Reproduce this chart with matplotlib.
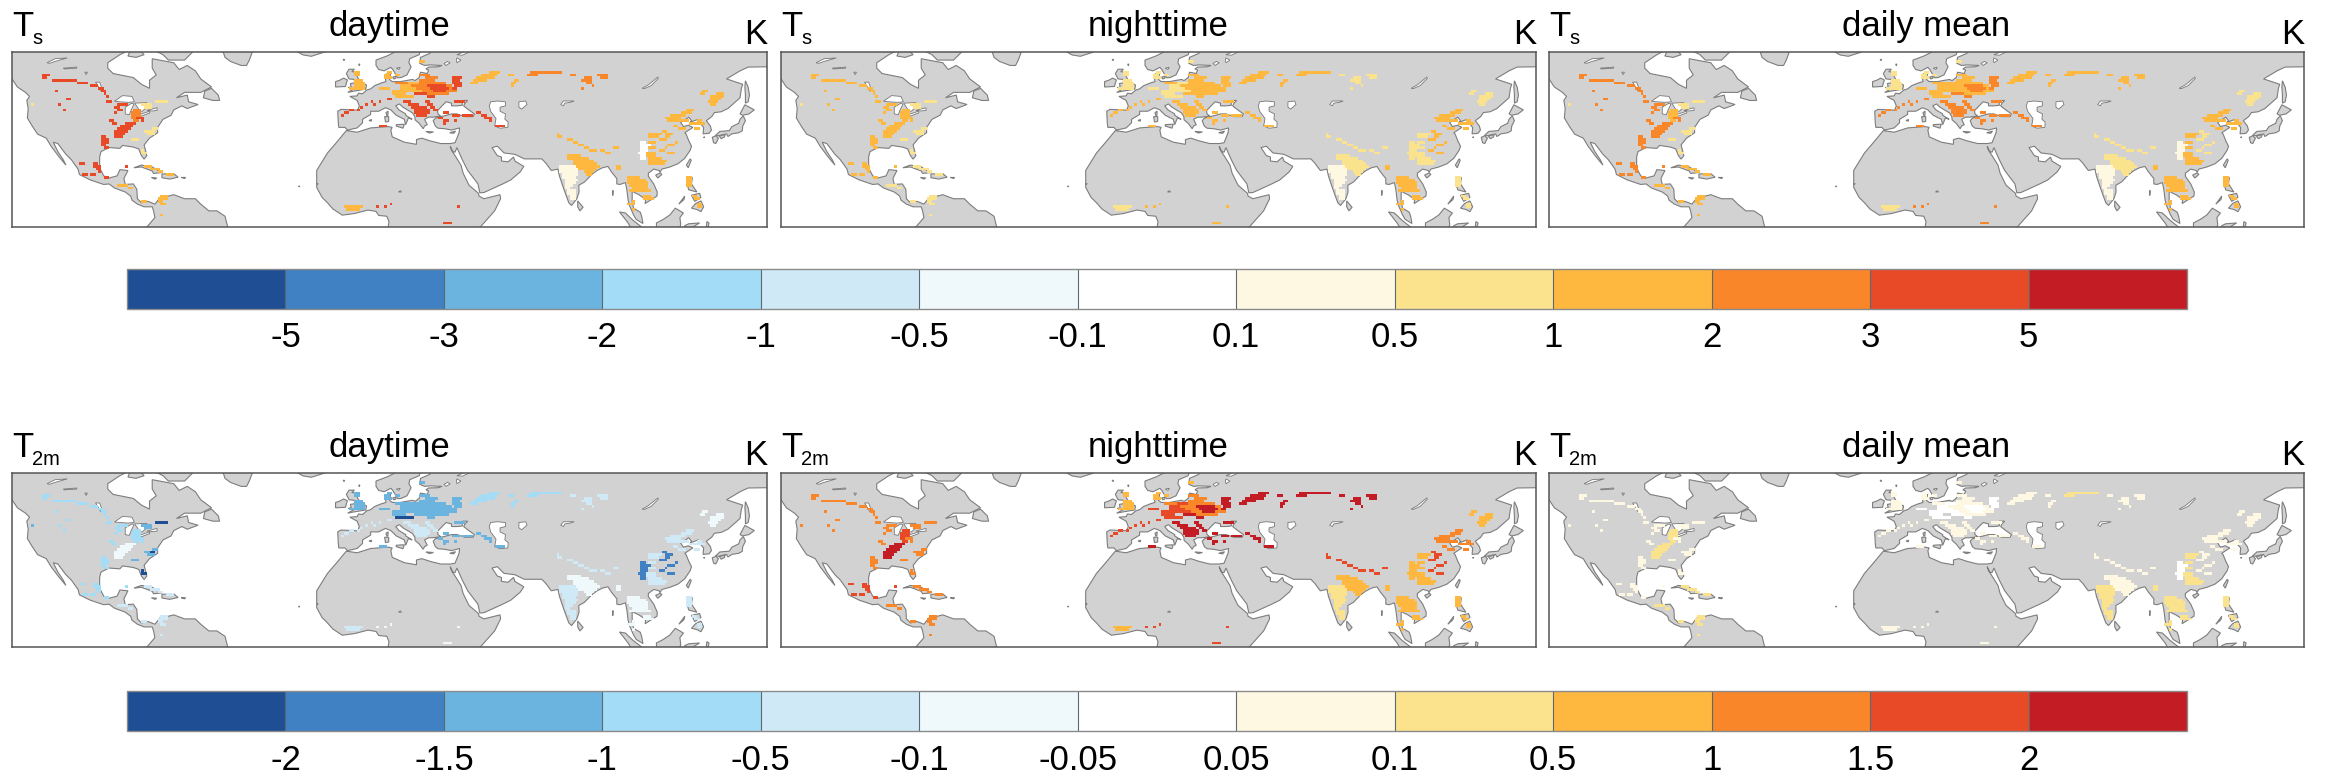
#!/usr/bin/env python3
"""Six map panels of Ts / T2m change over croplands, with two discrete colour bars."""

import numpy as np
import matplotlib
matplotlib.use("Agg")
import matplotlib.pyplot as plt
from matplotlib.cm import ScalarMappable
from matplotlib.colors import BoundaryNorm, ListedColormap
from matplotlib.patches import Polygon

plt.rcParams["font.family"] = ["Liberation Sans", "DejaVu Sans"]

FIG_W, FIG_H = 2328, 776
LAND = "#d2d2d2"
COAST = "#7d7d7d"

colors = ["#1f4e94", "#3f81c2", "#6cb4e0", "#a3dcf7", "#cfeaf6", "#eff8fb", "#ffffff",
          "#fef8e3", "#fbe38e", "#feb840", "#f98628", "#e84a27", "#c41c24"]
ts_levels = [-5, -3, -2, -1, -0.5, -0.1, 0.1, 0.5, 1, 2, 3, 5]
t2_levels = [-2, -1.5, -1, -0.5, -0.1, -0.05, 0.05, 0.1, 0.5, 1, 1.5, 2]
titles = ["daytime", "nighttime", "daily mean"]

# coastlines, lon/lat
afro_eurasia = [
    (32.5, 31), (29, 31), (25, 32), (22, 33), (20, 32.5), (20, 30.7), (15.5, 31.5), (11, 33.5), (10.5, 36),
    (11, 37), (9.5, 37.3), (3, 36.8), (-2, 35.2), (-6, 35.8), (-10, 31), (-13, 27.5), (-17, 21), (-17, 14.7),
    (-15, 11), (-13, 9), (-11, 6.7), (-7.5, 4.4), (-3, 5), (2, 6.3), (5, 5.8), (6, 4.3), (9, 4), (9.8, 2),
    (9.5, 0), (9, -3), (41, -3), (45, 1.5), (49, 6), (51.2, 10.5), (51, 12), (45, 10.5), (43.2, 11.5),
    (43, 12.5), (39.5, 15.5), (37.3, 20), (36.5, 23), (34, 27), (33, 28.5), (32.5, 30), (33.5, 28),
    (34.3, 27.8), (35, 29.5), (37, 25), (39, 21), (42.8, 16), (43.5, 12.7), (45, 12.8), (52, 16), (55, 17.5),
    (58.5, 20.5), (59.8, 22.5), (56.5, 24.5), (56, 26), (54, 24.2), (51.5, 24.5), (51.5, 26), (50, 26.5),
    (48, 29.5), (50, 30), (52.5, 27.5), (56.5, 27), (60, 25.3), (66.5, 25.3), (68, 23.7), (70, 21),
    (72.5, 21.5), (73, 19), (74.5, 14.5), (76.5, 9), (77.5, 8), (79.5, 10.5), (80.3, 13), (80.2, 15.5),
    (82.3, 16.7), (85, 19.5), (87, 21), (89, 22), (91, 22.5), (92.3, 20.5), (94.3, 18), (94.3, 16),
    (95.5, 15.8), (97.5, 16.5), (98, 14), (98.5, 10), (99, 8), (100.5, 4.5), (101.5, 2.8), (104, 1.3),
    (103.5, 4), (103, 5.5), (100.5, 7), (100, 9.5), (100, 13.4), (101, 12.7), (102.5, 12), (105, 10.3),
    (104.8, 8.7), (106.5, 9.8), (109.2, 11.5), (109.3, 13), (108, 16), (106, 18.8), (106, 20), (108, 21.5),
    (110, 21), (110.3, 20.3), (111, 21.5), (114, 22.3), (117, 23.5), (119.5, 25.5), (121.5, 28.5), (122, 30),
    (121, 32), (120, 34.5), (119.5, 35), (122.5, 37), (120.8, 37.8), (119, 37.3), (118, 38.8), (121, 40.8),
    (122, 39.5), (121.5, 38.9), (124.5, 40), (125.2, 38.5), (126.5, 37), (126.3, 34.6), (128.5, 34.8),
    (129.4, 36), (129, 37.5), (127.5, 39.5), (129.5, 41), (130.5, 42.5), (133, 42.8), (135.5, 44), (140, 48),
    (140.5, 51.5), (141, 53), (138, 54), (135, 55), (140, 58), (143, 59.4), (150, 59.5), (155, 60), (155, 70),
    (12, 70), (12, 65), (9, 63.5), (5, 62), (5, 60), (6, 58.5), (8, 58), (10.5, 59.3), (11.2, 58.5),
    (12.5, 56.3), (13, 55.4), (14.3, 55.5), (16.5, 56.5), (18, 59.5), (17.2, 61), (17.5, 62.5), (21, 64),
    (21.5, 65.5), (25, 65.5), (25, 64.5), (21.5, 63), (21.2, 60.8), (23, 60), (25, 60.2), (29.5, 60),
    (28, 59.5), (24.5, 59.4), (23.5, 58.7), (24.5, 58.3), (24, 57), (21.5, 57.5), (21, 55.5), (19.5, 54.4),
    (18.5, 54.8), (14, 54), (11, 54), (10, 54.8), (10.5, 57.5), (8.2, 56.5), (8.7, 54), (7, 53.5), (4.5, 52.5),
    (3, 51.3), (1.6, 50.9), (0, 49.5), (-1.5, 49.7), (-2, 48.7), (-4.7, 48.5), (-2, 47), (-1.2, 45),
    (-1.8, 43.4), (-8, 43.7), (-9.2, 43), (-9, 38.7), (-8.8, 37), (-6.5, 37), (-5.6, 36), (-2, 36.8), (0, 38.7),
    (0, 40), (3, 41.8), (3, 43), (6, 43), (8.5, 44.3), (10.5, 43.5), (12.5, 41.5), (15.5, 40), (16, 38),
    (16.6, 39.5), (17, 40.5), (18.4, 40), (16, 41.5), (16, 42), (13.5, 43.5), (12.3, 45), (13.7, 45.7),
    (15, 44.5), (18.5, 42.4), (19.4, 41), (19.5, 39.8), (21, 38.5), (22.5, 36.5), (23, 37.5), (24, 38),
    (23, 40), (24.5, 40.8), (26, 40.8), (29, 41.2), (28, 42), (27.8, 43.2), (29.5, 45), (31, 46.5), (33, 46),
    (33, 45), (35, 45), (37, 45.2), (37, 47), (39, 47), (38, 46), (37.5, 45), (39, 43.8), (41.5, 42), (41, 41),
    (38, 41), (35, 42), (33, 42), (30, 41.2), (29, 41), (27, 40.4), (26.2, 39.5), (27, 37.5), (28, 36.7),
    (30.5, 36.5), (33, 36), (36, 36.8), (35.8, 35), (35, 33), (34.3, 31.3),
]
americas = [
    (-140, 70), (-140, 60), (-130, 55), (-128, 52), (-125, 50), (-123.5, 48.5), (-124.5, 47), (-124, 44),
    (-124.3, 40.5), (-122.5, 37.5), (-120.5, 34.5), (-117.3, 33), (-115.5, 30), (-114, 28), (-112.5, 26),
    (-110, 23), (-111, 25), (-113, 28), (-114.7, 31.5), (-113, 31), (-110, 27), (-108, 25), (-105.5, 21.5),
    (-105, 19.5), (-101, 17.5), (-96, 15.8), (-94, 16), (-92, 14.5), (-88, 13), (-86, 11.5), (-85.5, 10),
    (-83.5, 8.5), (-81, 7.5), (-80, 7.5), (-78, 7.5), (-77.5, 6), (-77, 3.5), (-78.7, 1.5), (-80, 0),
    (-80.5, -3), (-50, -3), (-50, 0), (-51, 4), (-54, 6), (-57, 6), (-60, 8.5), (-62, 10.5), (-66, 10.5),
    (-70, 12), (-72, 11.5), (-75, 11), (-77, 8.5), (-79.5, 9.5), (-82, 9), (-83.5, 10.5), (-83.7, 14),
    (-85, 16), (-88, 15.8), (-88.5, 18), (-87, 21), (-90, 21.3), (-91, 19), (-94, 18.2), (-96, 19), (-97.5, 22),
    (-97.5, 26), (-97, 28), (-94, 29.5), (-90, 29.2), (-89, 30.3), (-85, 29.7), (-83, 29), (-82, 26.5),
    (-81, 25.2), (-80, 26.5), (-81, 30.5), (-79, 33), (-76, 35), (-76, 37), (-74, 40), (-71, 41.5), (-70, 43.5),
    (-67, 45), (-65, 44), (-61, 45.5), (-64.5, 46.5), (-65, 49), (-69, 48), (-66, 50), (-60, 50), (-56, 52),
    (-60, 55), (-62, 58), (-65, 60), (-68, 58.5), (-70, 61), (-78, 62.5), (-78, 59), (-76.5, 56.5), (-79, 54.5),
    (-79, 51.5), (-82, 53), (-85, 55.5), (-92.5, 57), (-94.5, 59), (-94.5, 61), (-90, 64), (-88, 65), (-88, 70),
]
islands = [
    [(-52, 66), (-51, 63), (-49, 61.5), (-45, 60), (-43, 60), (-42, 62), (-40.5, 66)],
    [(-78, 66), (-74, 64), (-72, 62), (-66, 62), (-64, 64), (-62, 66)],
    [(-87, 63.5), (-84, 63), (-81, 64), (-83, 66), (-86, 66)],
    [(-58.5, 50.5), (-59, 48), (-55.5, 47), (-53, 47), (-53.5, 49), (-56, 51.5)],
    [(-84.8, 22), (-82, 23), (-78, 22.3), (-74.5, 20.2), (-77.5, 19.9), (-78, 20.8), (-82, 22.3)],
    [(-74.4, 19.7), (-70, 19.8), (-68.4, 18.5), (-71.5, 17.8), (-74.4, 18.3)],
    [(-78.3, 18.4), (-76.3, 18.2), (-77, 17.8)],
    [(-67.2, 18.4), (-65.6, 18.4), (-66, 18)],
    [(-24, 65), (-22, 63.9), (-19, 63.4), (-14, 65), (-14, 66), (-24, 66)],
    [(-5.5, 50), (-3.5, 50.4), (1.2, 51.2), (1.5, 52.7), (0, 53.5), (-1.5, 55), (-2, 56), (-2, 57.5), (-4, 57.7),
     (-3, 58.6), (-5, 58.6), (-6, 57), (-5, 55), (-3, 54.8), (-3, 53.5), (-4.5, 53.3), (-4.2, 52), (-5.2, 51.8),
     (-3, 51.4)],
    [(-10, 52), (-6.3, 52.2), (-6, 53.5), (-5.6, 54.6), (-7, 55.3), (-8.5, 54.5), (-10, 54)],
    [(12.5, 38), (15.5, 38.2), (15, 36.7), (12.5, 37.5)],
    [(8.2, 41), (9.7, 41), (9.7, 39.2), (8.5, 39)],
    [(8.7, 42.5), (9.5, 43), (9.4, 41.5), (9, 41.4)],
    [(23.5, 35.5), (26.3, 35.3), (24.8, 34.9)],
    [(32.3, 35), (34.5, 35.6), (33.8, 34.8)],
    [(2.4, 39.6), (3.4, 39.9), (3.2, 39.3)],
    [(11.2, 55.7), (12.5, 56), (12.3, 55.2), (11.5, 55)],
    [(79.8, 9.7), (81.8, 7.3), (80.6, 6), (79.8, 7.5)],
    [(120.1, 23), (121.5, 25.3), (121.9, 24.8), (120.8, 22)],
    [(108.7, 19.3), (110.5, 20.1), (111, 19.5), (109.5, 18.2)],
    [(95.3, 5.6), (97.5, 5.2), (100.3, 2.5), (103.5, 0), (106, -3), (101, -3), (98.5, 1.5)],
    [(109, 1.5), (111.5, 2.8), (114, 4.5), (116, 7), (119, 5.2), (117.7, 3.5), (118, 1), (117.5, -1), (116, -3),
     (110, -3), (109, 0.5)],
    [(120.3, 16), (120.5, 18.5), (122.3, 18.4), (122, 16), (124, 13), (121, 13.8)],
    [(122, 7), (123.5, 8.7), (125.5, 9.7), (126.5, 7.5), (125.5, 5.7), (124, 6.5)],
    [(117.3, 8.5), (119.5, 11.5), (119.2, 10.2)],
    [(122, 11.8), (123.2, 9.5), (125.5, 11), (125, 12.5)],
    [(119, -3), (119.5, 0.5), (121, 1.2), (125, 1.5), (123, 0.3), (122, -3)],
    [(127.5, 0), (127.7, 2), (128.5, 1.5), (128.2, 0)],
    [(130.9, 34), (132.5, 35.5), (136, 35.8), (137, 37.3), (139.5, 38.5), (140, 40), (141.2, 41.3), (142, 39.5),
     (141, 37.5), (140.8, 35.7), (139.5, 35), (137, 34.6), (135.5, 33.6), (135, 34.6), (132, 33.9)],
    [(129.7, 33.3), (131, 33.9), (132, 33), (131, 31), (130.2, 31.3)],
    [(132.3, 33.8), (134.5, 34.3), (134.2, 33.4), (133, 32.8)],
    [(140, 42), (141.8, 45.4), (145.3, 43.5), (143.3, 42), (141, 41.5)],
    [(142, 54.3), (143, 52), (143.5, 49), (143, 46.5), (142, 46), (142, 49), (141.8, 52)],
    [(92.7, 13.5), (93, 13.5), (92.8, 11.7)],
    [(126.7, 33.5), (126.5, 33.2), (126.9, 33.3)],
    [(-7.2, 62.3), (-6.6, 62.2), (-6.9, 61.8)],
    [(-1.4, 60.5), (-1, 60.5), (-1.2, 59.9)],
    [(-17, 16), (-16.5, 16.2), (-16.7, 15.8)],
    [(-23.7, 15.2), (-23.3, 15.2), (-23.5, 14.9)],
]
lakes = [
    [(47, 45), (47.5, 46.5), (50, 46.8), (53, 46.5), (53, 45), (51, 44.5), (51, 43), (53, 42), (52.8, 40), (54, 39),
     (53.9, 37), (51, 36.7), (49, 37.5), (49.5, 40.3), (47.5, 43)],
    [(58, 46.5), (60.5, 46.8), (61, 45.5), (59, 43.8), (58, 44.5)],
    [(73.5, 45.5), (74.5, 46.8), (78.5, 46.8), (77, 46.3), (75, 46), (74.5, 45)],
    [(103.7, 51.5), (106, 52.8), (109.5, 55.7), (109.7, 55.2), (107, 52.5), (104.5, 51.4)],
    [(-92, 46.7), (-89, 48.8), (-85.5, 48.5), (-84.6, 46.5), (-87, 46.3), (-90, 46.5)],
    [(-88, 42), (-88, 44.5), (-85.5, 46), (-84.8, 45.6), (-85.8, 43.5), (-86.5, 41.7)],
    [(-84.5, 46), (-80, 46.2), (-79.8, 44.6), (-81.7, 43), (-82.5, 43), (-83.5, 44.5)],
    [(-83.5, 41.5), (-79, 43), (-78.9, 42.4), (-82, 41.2)],
    [(-80, 43.3), (-76.2, 44.3), (-76.2, 43.3), (-78, 43.1)],
    [(-99, 53.8), (-97.5, 53.8), (-96.3, 50.5), (-97, 50.5)],
    [(-117, 61), (-114, 62.5), (-109.5, 62.8), (-114, 61.5), (-116, 60.8)],
    [(-111, 59), (-106, 59.4), (-106, 59), (-110.5, 58.7)],
    [(-103, 57.5), (-102, 57.5), (-102.5, 56.6)],
    [(31, 60), (32.5, 61), (31.5, 61.5), (30.2, 60.7)],
    [(35, 61), (36.5, 62), (35, 62.8), (34.8, 62)],
    [(35, 64), (38, 65.2), (40, 65.2), (37, 63.8)],
    [(12.5, 59), (14, 59.3), (13.5, 58.5)],
    [(14, 13.5), (14.5, 13), (13.3, 13)],
]

# crop cells by region: (lat, first lon, last lon) on a 1 degree grid
us_core = [(38, -88, -85), (37, -90, -86), (36, -91, -87), (35, -92, -88), (34, -92, -89), (33, -92, -90)]
us_ohio = [(43, -85, -83), (42, -86, -83), (41, -86, -83), (40, -86, -84), (39, -85, -84)]
us_plains = [(56, -119, -117), (55, -119, -118), (54, -115, -107), (53, -106, -103), (52, -101, -99), (51, -98, -97),
             (50, -97, -96), (49, -96, -96), (48, -95, -95), (46, -95, -94), (50, -114, -114), (47, -110, -109),
             (45, -113, -113), (43, -111, -111), (45, -91, -88), (44, -92, -91), (43, -91, -90), (42, -92, -92),
             (39, -94, -93), (38, -93, -92), (33, -97, -96), (32, -97, -95), (31, -97, -95), (30, -97, -96),
             (29, -96, -95), (40, -84, -82), (39, -82, -82)]
us_east = [(45, -82, -79), (44, -81, -79), (36, -78, -77), (35, -81, -80), (34, -80, -78), (32, -86, -84),
           (45, -123, -123)]
us_coast = [(46, -77, -73), (35, -79, -78), (28, -82, -82), (27, -82, -81)]
mexico = [(23, -100, -99), (22, -100, -98), (21, -99, -98), (20, -98, -98), (23, -105, -104), (19, -104, -103),
          (19, -101, -100), (22, -88, -88), (18, -96, -95)]
caribbean = [(22, -81, -79), (21, -79, -76), (20, -76, -75), (19, -73, -71), (15, -91, -88), (14, -87, -86), (9, -82, -81),
             (11, -75, -73), (10, -76, -73), (9, -76, -75), (4, -75, -75), (8, -75, -74)]
uk_denmark = [(57, -3, -2), (56, -3, -2), (54, -3, -1), (53, -3, 0), (52, -3, 0), (51, -3, 0), (51, -5, -4), (56, 8, 9),
              (55, 8, 10), (57, 9, 10), (56, 12, 13), (61, 21, 22)]
eu_west = [(50, 11, 17), (49, 11, 15), (51, 6, 9), (51, 14, 20), (52, 14, 18), (50, 18, 21), (53, 16, 20)]
eu_core = [(53, 21, 30), (52, 18, 32), (51, 20, 33), (50, 22, 34), (49, 24, 31), (54, 21, 26), (55, 23, 27), (56, 21, 24),
           (53, 12, 16)]
eu_hot = [(52, 24, 30), (51, 25, 31), (50, 26, 30), (49, 19, 23), (48, 24, 26), (54, 33, 35), (55, 33, 36), (53, 33, 36),
          (52, 34, 36), (51, 33, 34)]
eu_stripe = [(48, 12, 18)]
balkans = [(46, 15, 17), (45, 17, 20), (44, 18, 23), (43, 19, 24), (42, 19, 24), (41, 20, 23), (45, 24, 25), (46, 23, 24),
           (44, 25, 26), (43, 26, 27)]
black_sea = [(46, 34, 35), (46, 36, 37), (41, 33, 35), (41, 37, 40), (42, 42, 43), (41, 44, 45), (40, 45, 47), (39, 47, 47),
             (42, 30, 31), (40, 28, 29), (39, 30, 31), (39, 34, 34), (38, 30, 30), (37, 49, 52), (37, 6, 8)]
west_med = [(41, -8, -8), (43, -5, -4), (43, -2, -2), (45, 1, 1), (45, 4, 4), (46, 6, 6), (47, 9, 10), (46, 3, 3),
            (42, -7, -6), (44, -1, -1)]
volga = [(57, 47, 50), (56, 44, 49), (55, 42, 48), (54, 41, 45), (53, 40, 42), (56, 54, 55), (54, 56, 57), (53, 55, 56),
         (52, 55, 55)]
urals = [(57, 62, 67), (56, 61, 64), (57, 68, 73)]
siberia = [(56, 87, 90), (55, 82, 84), (54, 81, 84), (55, 88, 90), (53, 83, 84), (56, 77, 78), (52, 85, 85), (51, 81, 81)]
india_south = [(22, 73, 78), (21, 73, 79), (20, 73, 79), (19, 74, 79), (18, 74, 78), (17, 75, 79), (16, 75, 78), (15, 75, 77),
               (14, 75, 76), (13, 76, 78), (12, 76, 78), (11, 77, 78), (10, 77, 78)]
india_north = [(26, 76, 80), (25, 76, 83), (24, 78, 85), (23, 78, 86), (22, 79, 87), (21, 80, 86), (20, 82, 85), (19, 83, 84)]
himalaya = [(34, 72, 72), (33, 72, 73), (32, 76, 77), (31, 78, 79), (30, 80, 81), (29, 82, 83), (28, 84, 86), (28, 88, 89),
            (29, 93, 94), (27, 90, 91)]
sichuan = [(31, 103, 104), (30, 103, 106), (29, 103, 105), (28, 103, 105), (27, 102, 104), (26, 103, 104), (25, 103, 104)]
china_south = [(34, 106, 110), (33, 106, 109), (31, 106, 108), (29, 106, 108), (27, 105, 108), (26, 105, 108), (25, 106, 110),
               (24, 106, 112), (23, 106, 111)]
china_dots = [(35, 111, 112), (34, 112, 114), (33, 112, 113), (32, 110, 112), (30, 113, 115), (28, 110, 111), (27, 113, 115),
              (31, 116, 116), (29, 112, 112)]
north_china = [(43, 120, 122), (42, 118, 121), (41, 114, 119), (40, 112, 117), (39, 113, 120), (38, 121, 123), (39, 124, 125),
               (38, 124, 126), (37, 115, 116), (36, 117, 119), (36, 123, 124)]
ne_china = [(49, 131, 133), (48, 129, 133), (47, 129, 132), (46, 128, 131), (45, 129, 130), (50, 126, 127), (49, 125, 126)]
se_asia = [(18, 98, 102), (17, 98, 104), (16, 98, 105), (15, 99, 105), (14, 100, 105), (13, 99, 106), (22, 94, 95), (21, 94, 95),
           (11, 104, 106), (10, 104, 107), (9, 100, 100), (8, 98, 100), (6, 100, 100)]
philippines = [(18, 120, 121), (17, 120, 121), (16, 120, 121), (15, 120, 121), (11, 122, 123), (10, 123, 124), (8, 124, 125),
               (7, 124, 125)]
west_africa = [(7, -7, -2), (6, -6, -2), (7, -1, -1)]
africa_dots = [(7, 5, 5), (7, 8, 8), (8, 10, 10), (7, 35, 35), (1, 30, 32)]

regions = [us_core, us_ohio, us_plains, us_east, us_coast, mexico, caribbean, uk_denmark, eu_west, eu_core, eu_hot, eu_stripe,
           balkans, black_sea, west_med, volga, urals, siberia, india_south, india_north, himalaya, sichuan, china_south,
           china_dots, north_china, ne_china, se_asia, philippines, west_africa, africa_dots]

# region values in K, same order as regions
ts_day = [3.5, 2.5, 3.5, 0.7, 0.7, 4, 1.5, 1.5, 1.5, 2.5, 3.5, 1.5, 3.5, 4, 4, 1.5, 2.5, 2.5, 0.3, 1.5, 1.5, 0.07, 1.5, 1, 1.5,
          1.5, 1.5, 1.5, 1.5, 4]
ts_night = [1.5, 1.5, 1.5, 0.7, 0.7, 1.5, 0.7, 0.7, 0.7, 1.5, 1.5, 0.7, 1.5, 1.5, 1.5, 1.2, 1.2, 0.7, 0.3, 0.7, 0.7, 0.7, 0.7,
            1.2, 1.2, 0.7, 1.2, 0.7, 0.7, 1.5]
ts_mean = [2.5, 1.5, 2.5, 0.7, 0.7, 2.5, 1.5, 0.7, 1.5, 1.5, 2.5, 1.5, 2.5, 2.5, 2.5, 1.5, 1.5, 1.2, 0.3, 0.7, 0.7, 0.3, 1.2,
           0.7, 1.2, 0.7, 1.5, 1.2, 0.7, 2.5]
t2_day = [-0.07, -0.7, -0.7, -1.2, -2.5, -0.7, -0.3, -1.2, -1.2, -1.2, -1.2, -2.2, -0.3, -1.2, -0.3, -0.7, -0.7, -0.3, -0.3,
          -0.07, -0.3, -1.7, -0.3, -1.7, -0.3, -0.07, -0.07, -0.3, -0.3, -0.07]
t2_night = [2.5, 1.7, 1.2, 1.2, 1.2, 1.7, 1.2, 0.7, 1.7, 1.2, 2.5, 1.7, 2.5, 2.5, 1.7, 2.5, 2.5, 2.5, 0.3, 0.7, 1.7, 0.7, 0.7,
            1.7, 1.2, 0.7, 0.7, 0.7, 0.7, 1.7]
t2_mean = [0.3, 0.3, 0.07, 0.07, 0.07, 0.07, 0.3, 0.07, 0.0, 0.07, 0.0, 0.0, 0.07, 0.07, 0.07, 0.07, 0.3, 0.07, 0.3, 0.07, 0.07,
           0.0, 0.3, 0.07, 0.07, 0.07, 0.3, 0.3, 0.07, 0.07]


def _fig_box(x0, y0, x1, y1):
    return [x0 / FIG_W, 1 - y1 / FIG_H, (x1 - x0) / FIG_W, (y1 - y0) / FIG_H]


def _label(fig, x, y, s, size, ha="left"):
    fig.text(x / FIG_W, 1 - y / FIG_H, s, fontsize=size, ha=ha, va="baseline", color="black")


def _grid(values):
    grid = np.full((65, 280), np.nan)
    for runs, val in zip(regions, values):
        for lat, lon0, lon1 in runs:
            grid[lat, lon0 + 130:lon1 + 131] = val
    return np.ma.masked_invalid(grid)


def _draw_panel(ax, values, cmap, norm):
    ax.set_xlim(-130, 150)
    ax.set_ylim(0, 65)
    ax.set_xticks([])
    ax.set_yticks([])
    for spine in ax.spines.values():
        spine.set_color("#555555")
        spine.set_linewidth(1.1)
    for poly in [afro_eurasia, americas] + islands:
        ax.add_patch(Polygon(poly, closed=True, facecolor=LAND, edgecolor=COAST, linewidth=0.8, zorder=1))
    for poly in lakes:
        ax.add_patch(Polygon(poly, closed=True, facecolor="white", edgecolor="#777777", linewidth=0.6, zorder=1.5))
    ax.pcolormesh(np.arange(-130, 151), np.arange(0, 66), _grid(values), cmap=cmap, norm=norm, zorder=2)


def _draw_colorbar(fig, box, levels, cmap, norm):
    cax = fig.add_axes(_fig_box(*box))
    cbar = fig.colorbar(ScalarMappable(norm=norm, cmap=cmap), cax=cax, orientation="horizontal", spacing="uniform",
                        extend="both", extendrect=True, extendfrac=1 / 11, drawedges=True)
    cbar.set_ticks(levels, labels=[f"{v:g}" for v in levels])
    cbar.minorticks_off()
    cbar.ax.tick_params(length=0, labelsize=25, pad=9)
    cbar.outline.set_edgecolor("#8a8a8a")
    cbar.outline.set_linewidth(1.0)
    cbar.dividers.set_color("#5a6a70")
    cbar.dividers.set_linewidth(0.8)


def main():
    fig = plt.figure(figsize=(FIG_W / 100, FIG_H / 100), dpi=100)
    cmap = ListedColormap(colors[1:-1])
    cmap = cmap.with_extremes(under=colors[0], over=colors[-1])
    ts_norm = BoundaryNorm(ts_levels, 11)
    t2_norm = BoundaryNorm(t2_levels, 11)

    lefts = [12, 781, 1549]
    width = 755
    rows = [
        (52, 227, "s", [ts_day, ts_night, ts_mean], ts_norm),
        (473, 647, "2m", [t2_day, t2_night, t2_mean], t2_norm),
    ]
    for top, bottom, sub, panels, norm in rows:
        for left, title, values in zip(lefts, titles, panels):
            ax = fig.add_axes(_fig_box(left, top, left + width, bottom))
            _draw_panel(ax, values, cmap, norm)
            _label(fig, left, top - 16, "T", 25)
            _label(fig, left + 20, top - 8, sub, 14.5)
            _label(fig, left + width / 2, top - 16, title, 25, ha="center")
            _label(fig, left + width, top - 8, "K", 25, ha="right")

    _draw_colorbar(fig, (127, 269, 2187, 309), ts_levels, cmap, ts_norm)
    _draw_colorbar(fig, (127, 691, 2187, 731), t2_levels, cmap, t2_norm)

    fig.savefig("out.png", dpi=100)
    plt.close(fig)


if __name__ == "__main__":
    main()
